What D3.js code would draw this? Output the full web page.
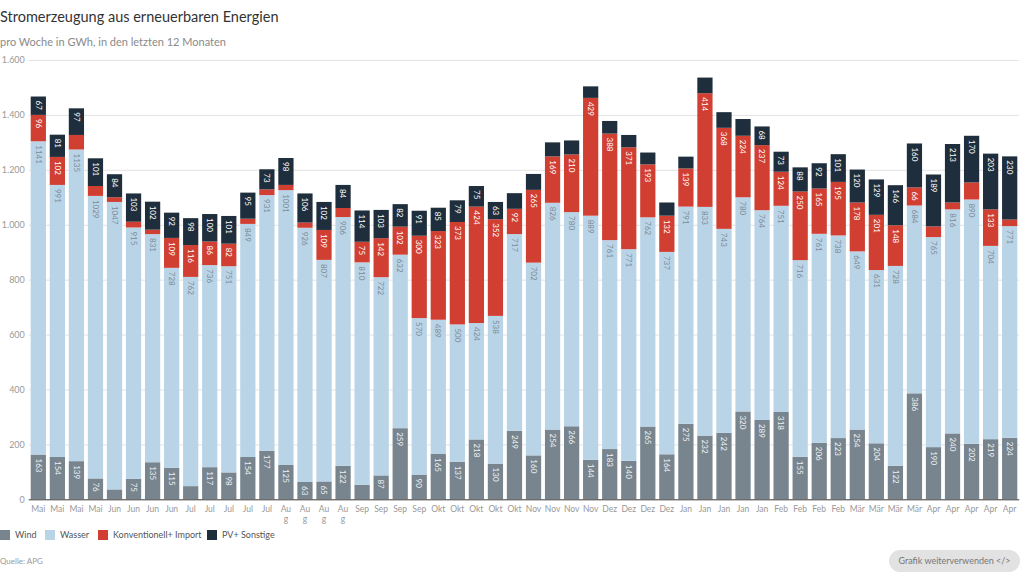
<!DOCTYPE html>
<html><head><meta charset="utf-8">
<script src="https://cdn.jsdelivr.net/npm/d3@7"></script>
<style>
html,body{margin:0;padding:0;background:#fff;}
svg{display:block;font-family:Lato,"Open Sans",sans-serif;}
</style></head>
<body>
<svg id="chart" width="1024" height="576"></svg>
<script>
const months = ["Mai","Mai","Mai","Mai","Jun","Jun","Jun","Jun","Jul","Jul","Jul","Jul","Jul","Aug","Aug","Aug","Aug","Sep","Sep","Sep","Sep","Okt","Okt","Okt","Okt","Okt","Nov","Nov","Nov","Nov","Dez","Dez","Dez","Dez","Jan","Jan","Jan","Jan","Jan","Feb","Feb","Feb","Feb","Mär","Mär","Mär","Mär","Apr","Apr","Apr","Apr","Apr"];
const wind = [163,154,139,76,36,75,135,115,48,117,98,154,177,125,63,65,122,53,87,259,90,165,137,218,130,249,160,254,266,144,183,140,265,164,275,232,242,320,289,318,155,206,223,254,204,122,386,190,240,202,219,224];
const wasser = [1141,991,1135,1029,1047,915,831,728,762,736,751,849,931,1001,926,807,906,810,722,632,570,489,500,424,538,717,702,826,780,889,761,771,762,737,791,833,743,780,764,751,716,761,738,649,631,728,684,765,816,890,704,771];
const konv = [96,102,53,36,17,21,16,109,116,86,82,19,21,19,19,109,33,75,142,102,300,323,373,424,352,92,265,169,210,429,388,371,193,132,139,414,368,224,237,124,250,165,195,178,201,148,66,39,25,62,133,24];
const pv = [67,81,97,101,84,103,102,92,98,100,101,95,73,98,106,102,84,114,103,82,91,85,79,75,63,57,58,51,51,42,46,45,43,48,43,57,57,61,68,73,88,92,101,120,129,146,160,189,213,170,203,230];
const seriesNames = ["Wind","Wasser","Konventionell+ Import","PV+ Sonstige"];
const seriesKeys = ["wind","wasser","konv","pv"];
const colors = ["#78858f","#b9d4e7","#d13f33","#1f2e3c"];
const labelColors = ["#eef2f5","#7d8c97","#ffffff","#ffffff"];
const yTicks = [0,200,400,600,800,1000,1200,1400,1600];

const rows = months.map((m,i)=>({i, month:m, wind:wind[i], wasser:wasser[i], konv:konv[i], pv:pv[i]}));
const svg = d3.select("#chart");
const x = d3.scaleBand().domain(rows.map(d=>d.i)).range([28.8,1019.2]).paddingInner(0.2).paddingOuter(0.1);
const y = d3.scaleLinear().domain([0,1600]).range([499.3,60]);
const fmt = d3.formatLocale({decimal:",",thousands:".",grouping:[3],currency:["","€"]}).format(",d");

// title
svg.append("text").attr("x",0).attr("y",22).attr("font-size",14.5).attr("fill","#333")
  .text("Stromerzeugung aus erneuerbaren Energien");
svg.append("text").attr("x",0).attr("y",46).attr("font-size",11).attr("fill","#8a8a8a")
  .text("pro Woche in GWh, in den letzten 12 Monaten");

// grid
const yAxis = d3.axisLeft(y).tickValues(yTicks).tickSize(-(1019.2-28.8)).tickFormat(fmt);
const ga = svg.append("g").attr("transform","translate(28.8,0)").call(yAxis);
ga.select(".domain").remove();
ga.selectAll(".tick line").attr("stroke","#e3e3e3").attr("stroke-width",1);
ga.selectAll(".tick text").attr("x",-4).attr("fill","#999").attr("font-size",9).attr("font-family","Lato,'Open Sans',sans-serif");

// stacks
const stack = d3.stack().keys(seriesKeys)(rows);
const layers = svg.append("g").selectAll("g").data(stack).join("g").attr("fill",(d,k)=>colors[k]);
layers.selectAll("rect").data(d=>d).join("rect")
  .attr("x",d=>x(d.data.i)).attr("width",x.bandwidth())
  .attr("y",d=>y(d[1])).attr("height",d=>y(d[0])-y(d[1]));

// labels
stack.forEach((layer,k)=>{
  svg.append("g").selectAll("text").data(layer.filter(d=>d[1]-d[0]>=63)).join("text")
    .attr("transform",d=>`translate(${x(d.data.i)+x.bandwidth()/2},${y(d[1])+4}) rotate(90)`)
    .attr("dy","0.35em").attr("font-size",8).attr("fill",labelColors[k])
    .text(d=>d[1]-d[0]);
});

// baseline
svg.append("line").attr("x1",28.8).attr("x2",1019.2).attr("y1",y(0)+0.5).attr("y2",y(0)+0.5)
  .attr("stroke","#444").attr("stroke-width",1);

// x axis labels
const xl = svg.append("g").selectAll("text").data(rows).join("text")
  .attr("x",d=>x(d.i)+x.bandwidth()/2).attr("y",512).attr("text-anchor","middle")
  .attr("font-size",8.5).attr("fill","#999");
xl.each(function(d){
  const t = d3.select(this);
  const cx = x(d.i)+x.bandwidth()/2;
  if(d.month==="Aug"){
    t.text("Au");
    d3.select(this.parentNode).append("text").attr("x",cx).attr("y",522).attr("text-anchor","middle")
      .attr("font-size",8.5).attr("fill","#999").text("g");
  } else t.text(d.month);
});

// legend
const legX = [0,45,98,207];
const lg = svg.append("g").selectAll("g").data(seriesNames).join("g")
  .attr("transform",(d,k)=>`translate(${legX[k]},530)`);
lg.append("rect").attr("width",10).attr("height",10).attr("fill",(d,k)=>colors[k]);
lg.append("text").attr("x",15).attr("y",5).attr("dy","0.35em").attr("font-size",9).attr("fill","#555").text(d=>d);

svg.append("text").attr("x",0).attr("y",564).attr("font-size",8).attr("fill","#999").text("Quelle: APG");

// button
svg.append("rect").attr("x",889).attr("y",550).attr("width",131).attr("height",22).attr("rx",11).attr("fill","#e2e2e2");
svg.append("text").attr("x",954.5).attr("y",561).attr("dy","0.35em").attr("text-anchor","middle")
  .attr("font-size",9).attr("fill","#777").text("Grafik weiterverwenden </>");
</script>
</body></html>
